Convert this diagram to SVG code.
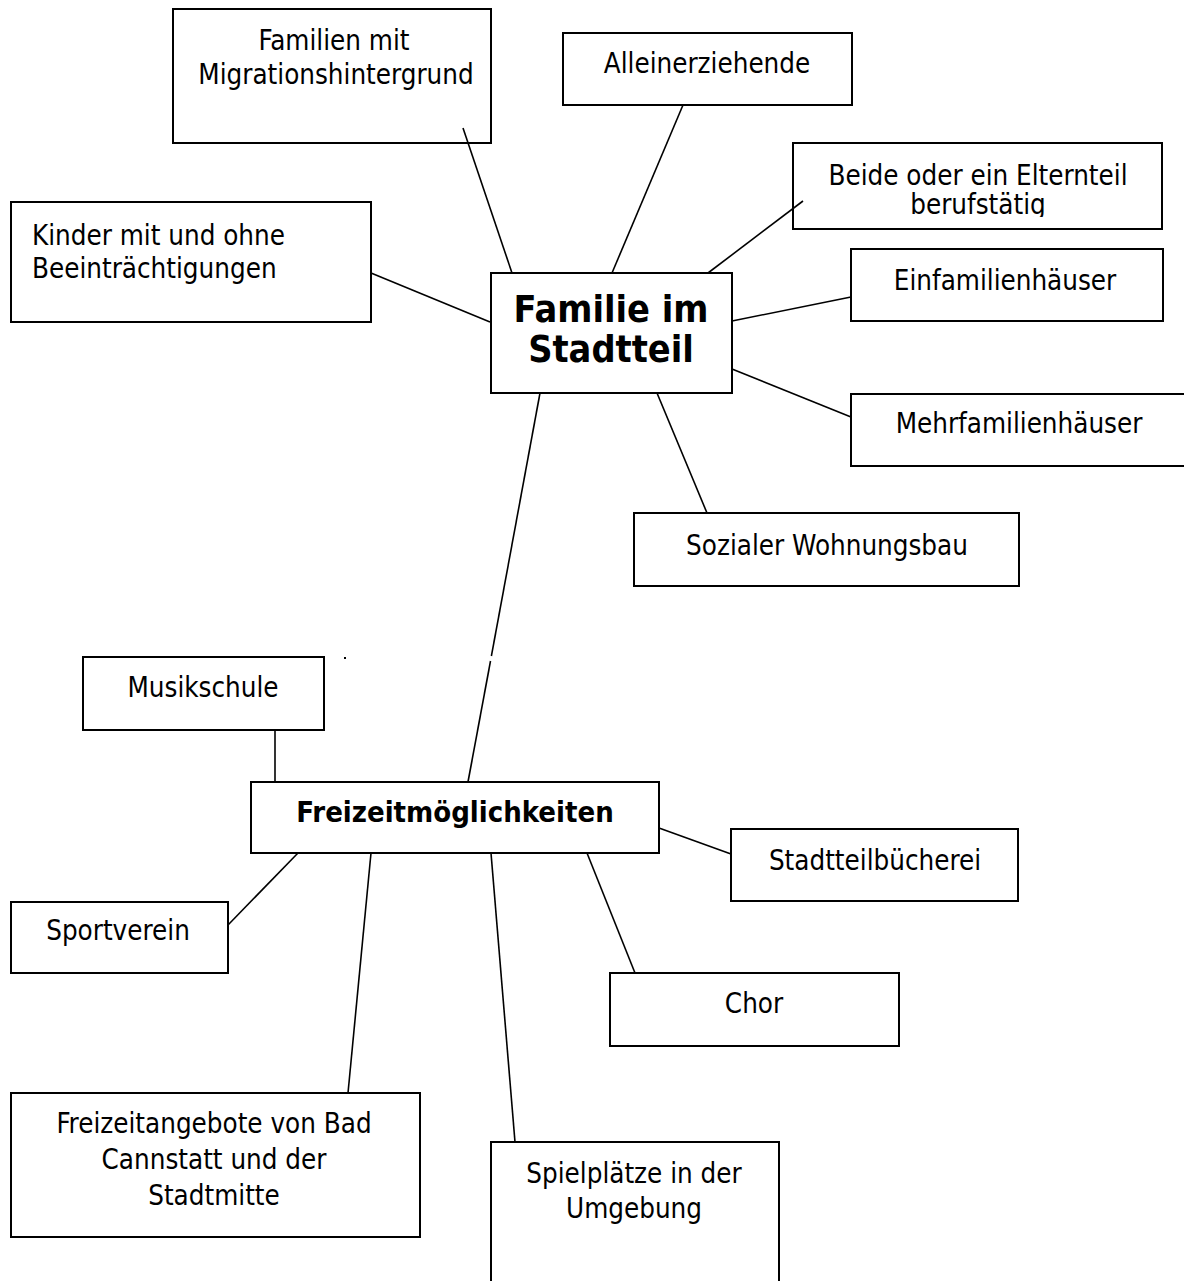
<svg xmlns="http://www.w3.org/2000/svg" width="1184" height="1281" viewBox="0 0 1184 1281">
<style>
.box{fill:none;stroke:#000;stroke-width:2}
.t{font-family:"DejaVu Sans Condensed","DejaVu Sans",sans-serif;font-stretch:condensed;font-size:27.5px;fill:#000;text-anchor:middle}
.b{font-weight:bold}
.l{stroke:#000;stroke-width:1.6;fill:none}
</style>
<defs>
<clipPath id="clipBeide"><rect x="793" y="143" width="370" height="74"/></clipPath>
</defs>
<rect width="1184" height="1281" fill="#fff"/>
<g id="connectors">
<line class="l" x1="463" y1="128" x2="512" y2="273"/>
<line class="l" x1="683" y1="105" x2="612" y2="273"/>
<line class="l" x1="803" y1="201" x2="708" y2="273"/>
<line class="l" x1="371" y1="273" x2="490" y2="322"/>
<line class="l" x1="732" y1="321" x2="851" y2="297"/>
<line class="l" x1="732" y1="369" x2="851" y2="417"/>
<line class="l" x1="657" y1="393" x2="707" y2="513"/>
<line class="l" x1="540" y1="393" x2="491.4" y2="656"/>
<line class="l" x1="490.5" y1="661" x2="468" y2="782"/>
<line class="l" x1="275" y1="731" x2="275" y2="782"/>
<line class="l" x1="298" y1="853" x2="228" y2="925"/>
<line class="l" x1="659" y1="828" x2="731" y2="854"/>
<line class="l" x1="587" y1="853" x2="635" y2="973"/>
<line class="l" x1="371" y1="853" x2="348" y2="1093"/>
<line class="l" x1="491" y1="853" x2="515" y2="1142"/>
<rect x="344" y="657" width="2" height="2" fill="#000"/>
</g>
<g id="migration">
<rect class="box" x="173" y="9" width="318" height="134"/>
<text class="t" x="334" y="50">Familien mit</text>
<text class="t" x="336" y="84">Migrationshintergrund</text>
</g>
<g id="alleinerziehende">
<rect class="box" x="563" y="33" width="289" height="72"/>
<text class="t" x="707" y="73">Alleinerziehende</text>
</g>
<g id="beide">
<rect class="box" x="793" y="143" width="369" height="86"/>
<g clip-path="url(#clipBeide)">
<text class="t" x="978" y="185">Beide oder ein Elternteil</text>
<text class="t" x="978" y="214">berufstätig</text>
</g>
</g>
<g id="kinder">
<rect class="box" x="11" y="202" width="360" height="120"/>
<text class="t" x="32" y="245" style="text-anchor:start">Kinder mit und ohne</text>
<text class="t" x="32" y="278" style="text-anchor:start">Beeinträchtigungen</text>
</g>
<g id="familie">
<rect class="box" x="491" y="273" width="241" height="120"/>
<text class="t b" x="611" y="322" style="font-size:37.5px">Familie im</text>
<text class="t b" x="611" y="362" style="font-size:37.5px">Stadtteil</text>
</g>
<g id="einfamilien">
<rect class="box" x="851" y="249" width="312" height="72"/>
<text class="t" x="1005" y="290">Einfamilienhäuser</text>
</g>
<g id="mehrfamilien">
<rect class="box" x="851" y="394" width="340" height="72"/>
<text class="t" x="1019" y="433">Mehrfamilienhäuser</text>
</g>
<g id="sozial">
<rect class="box" x="634" y="513" width="385" height="73"/>
<text class="t" x="827" y="555">Sozialer Wohnungsbau</text>
</g>
<g id="musikschule">
<rect class="box" x="83" y="657" width="241" height="73"/>
<text class="t" x="203" y="697">Musikschule</text>
</g>
<g id="freizeit">
<rect class="box" x="251" y="782" width="408" height="71"/>
<text class="t b" x="455" y="822" style="font-size:29px">Freizeitmöglichkeiten</text>
</g>
<g id="buecherei">
<rect class="box" x="731" y="829" width="287" height="72"/>
<text class="t" x="875" y="870">Stadtteilbücherei</text>
</g>
<g id="sportverein">
<rect class="box" x="11" y="902" width="217" height="71"/>
<text class="t" x="118" y="940">Sportverein</text>
</g>
<g id="chor">
<rect class="box" x="610" y="973" width="289" height="73"/>
<text class="t" x="754" y="1013">Chor</text>
</g>
<g id="angebote">
<rect class="box" x="11" y="1093" width="409" height="144"/>
<text class="t" x="214" y="1133">Freizeitangebote von Bad</text>
<text class="t" x="214" y="1169">Cannstatt und der</text>
<text class="t" x="214" y="1205">Stadtmitte</text>
</g>
<g id="spielplaetze">
<rect class="box" x="491" y="1142" width="288" height="150"/>
<text class="t" x="634" y="1183">Spielplätze in der</text>
<text class="t" x="634" y="1218">Umgebung</text>
</g>
</svg>
